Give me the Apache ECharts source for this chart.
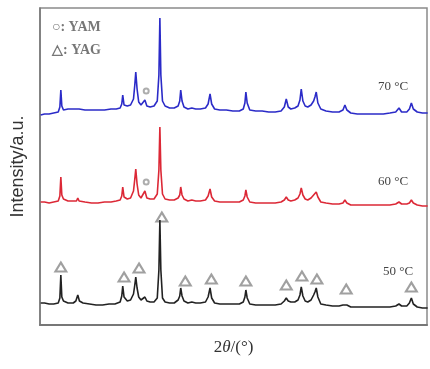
<!DOCTYPE html>
<html>
<head>
<meta charset="utf-8">
<script src="https://cdn.jsdelivr.net/npm/echarts@6/dist/echarts.min.js"></script>
<style>html,body{margin:0;padding:0;background:#fff;}#c{width:430px;height:369px;}</style>
</head>
<body>
<div id="c"></div>
<script>
// XRD patterns: [2theta, intensity (a.u., offset stacked)]
const pattern70 = [[15.0,210],[15.6,211],[16.3,211],[17.0,212],[17.7,213],[17.95,218],[18.1,235],[18.25,219],[18.5,215],[19.2,216],[20.0,216],[20.5,216],[20.7,218],[20.9,216],[21.8,215],[22.8,215],[23.8,215],[24.8,215],[25.8,216],[26.6,216],[27.2,217],[27.45,221],[27.6,230],[27.8,220],[28.3,219],[28.8,220],[29.25,226],[29.45,240],[29.6,253],[29.8,236],[30.05,223],[30.4,220],[30.7,221],[31.0,225],[31.3,219],[31.8,218],[32.4,219],[32.9,224],[33.15,250],[33.3,307],[33.45,250],[33.7,224],[34.1,219],[34.8,217],[35.5,217],[36.1,219],[36.35,224],[36.5,235],[36.7,224],[37.0,218],[37.6,216],[38.2,217],[38.8,216],[39.5,216],[40.3,217],[40.7,221],[41.0,231],[41.25,221],[41.7,216],[42.5,215],[43.5,215],[44.5,214],[45.5,214],[46.1,216],[46.35,222],[46.5,233],[46.7,222],[47.1,215],[48,214],[49,214],[50,213],[51,213],[51.9,214],[52.4,218],[52.7,226],[53.0,218],[53.4,216],[54.0,217],[54.5,219],[54.8,225],[55.0,236],[55.25,224],[55.6,219],[56.0,218],[56.5,220],[56.9,224],[57.1,228],[57.3,233],[57.55,222],[58.0,216],[58.8,214],[59.8,213],[60.8,213],[61.4,215],[61.7,220],[62.0,215],[62.6,212],[63.6,211],[64.6,211],[65.6,211],[66.6,211],[67.6,211],[68.6,212],[69.5,213],[70.0,217],[70.4,213],[71.2,213],[71.6,216],[71.9,222],[72.2,216],[72.8,213],[73.6,212],[74.4,212]];
const pattern60 = [[15.0,123],[15.6,123],[16.3,122],[17.0,123],[17.7,124],[17.95,129],[18.1,148],[18.25,130],[18.5,126],[19.2,124],[20.0,124],[20.5,124],[20.7,127],[20.9,124],[21.8,123],[22.8,122],[23.8,122],[24.8,123],[25.8,123],[26.6,124],[27.2,125],[27.45,129],[27.6,138],[27.8,128],[28.3,126],[28.8,127],[29.25,134],[29.45,146],[29.6,156],[29.8,141],[30.05,130],[30.4,127],[30.7,128],[31.0,134],[31.3,127],[31.8,126],[32.4,126],[32.9,131],[33.15,155],[33.3,198],[33.45,155],[33.7,131],[34.1,126],[34.8,125],[35.5,125],[36.1,127],[36.35,130],[36.5,138],[36.7,130],[37.0,126],[37.6,124],[38.2,125],[38.8,124],[39.5,124],[40.3,125],[40.7,129],[41.0,136],[41.25,128],[41.7,124],[42.5,123],[43.5,123],[44.5,123],[45.5,123],[46.1,125],[46.35,129],[46.5,135],[46.7,128],[47.1,123],[48,122],[49,122],[50,122],[51,122],[51.9,123],[52.4,125],[52.7,128],[53.0,125],[53.4,124],[54.0,125],[54.5,127],[54.8,131],[55.0,137],[55.25,130],[55.6,126],[56.0,125],[56.5,127],[56.9,130],[57.1,131],[57.3,133],[57.55,128],[58.0,123],[58.8,122],[59.8,121],[60.8,121],[61.4,122],[61.7,125],[62.0,122],[62.6,120],[63.6,120],[64.6,120],[65.6,120],[66.6,120],[67.6,120],[68.6,120],[69.5,121],[70.0,123],[70.4,121],[71.2,121],[71.6,122],[71.9,125],[72.2,122],[72.8,120],[73.6,119],[74.4,119]];
const pattern50 = [[15.0,22],[15.6,22],[16.3,21],[17.0,21],[17.7,22],[17.95,27],[18.1,50],[18.25,28],[18.5,24],[19.2,22],[20.0,22],[20.4,24],[20.7,30],[20.95,24],[21.5,22],[22.5,21],[23.5,20],[24.5,20],[25.5,21],[26.4,21],[27.2,23],[27.45,29],[27.6,39],[27.8,28],[28.3,24],[28.8,25],[29.25,31],[29.45,40],[29.6,48],[29.8,37],[30.05,28],[30.4,25],[30.7,25],[31.0,28],[31.3,24],[31.8,23],[32.4,23],[32.9,27],[33.15,55],[33.3,105],[33.45,55],[33.7,27],[34.1,23],[34.8,22],[35.5,22],[36.1,25],[36.35,29],[36.5,37],[36.7,29],[37.0,24],[37.6,22],[38.2,23],[38.8,22],[39.5,22],[40.3,23],[40.7,28],[41.0,37],[41.25,27],[41.7,22],[42.5,21],[43.5,21],[44.5,21],[45.5,21],[46.1,23],[46.35,28],[46.5,35],[46.7,27],[47.1,21],[48,20],[49,20],[50,20],[51,20],[51.9,21],[52.4,24],[52.7,27],[53.0,24],[53.4,23],[54.0,23],[54.5,25],[54.8,30],[55.0,38],[55.25,29],[55.6,24],[56.0,23],[56.5,25],[56.9,30],[57.1,33],[57.3,37],[57.55,28],[58.0,21],[58.8,20],[59.8,19],[60.8,19],[61.4,20],[61.7,22],[62.0,20],[62.6,18],[63.6,18],[64.6,18],[65.6,18],[66.6,18],[67.6,18],[68.6,18],[69.5,19],[70.0,21],[70.4,19],[71.2,19],[71.6,22],[71.9,27],[72.2,21],[72.8,18],[73.6,17],[74.4,17]];
// Phase markers
const yagMarks = [[18.1,58],[27.8,48],[30.1,57],[33.6,108],[37.2,44],[41.2,46],[46.5,44],[52.7,40],[55.1,49],[57.4,46],[61.9,36],[71.9,38]];
const yamMarks = [[31.2,234],[31.2,143]];
const seriesNames = ['70 °C','60 °C','50 °C'];
const yName = 'Intensity/a.u.';

const chart = echarts.init(document.getElementById('c'), null, {renderer:'canvas'});
const serif = 'Liberation Serif';
chart.setOption({
  animation:false,
  backgroundColor:'#fff',
  grid:{left:40, top:8, right:3, bottom:44, show:true, borderColor:'#8a8a8a', borderWidth:1.5},
  xAxis:{type:'value', min:14.9, max:74.3, name:'2{i|θ}/(°)', nameLocation:'middle', nameGap:14,
    nameTextStyle:{fontFamily:serif, fontSize:17, color:'#333', rich:{i:{fontFamily:serif, fontStyle:'italic', fontSize:17, color:'#333'}}},
    axisLine:{show:true, lineStyle:{color:'#777', width:2}}, axisTick:{show:false}, axisLabel:{show:false}, splitLine:{show:false}},
  yAxis:{type:'value', min:0, max:317, name:yName, nameLocation:'middle', nameGap:13,
    nameTextStyle:{fontFamily:'Liberation Sans', fontSize:18, color:'#333'},
    axisLine:{show:true, lineStyle:{color:'#777', width:1.5}}, axisTick:{show:false}, axisLabel:{show:false}, splitLine:{show:false}},
  series:[
    {name:seriesNames[0], type:'line', data:pattern70, symbol:'none', lineStyle:{color:'#2b2bc8', width:1.6}},
    {name:seriesNames[1], type:'line', data:pattern60, symbol:'none', lineStyle:{color:'#dc2836', width:1.6}},
    {name:seriesNames[2], type:'line', data:pattern50, symbol:'none', lineStyle:{color:'#222', width:1.6}},
    {name:'YAG', type:'scatter', data:yagMarks, symbol:'emptyTriangle', symbolSize:[11,9], itemStyle:{color:'#888', borderColor:'#888', borderWidth:1}},
    {name:'YAM', type:'scatter', data:yamMarks, symbol:'emptyCircle', symbolSize:5, itemStyle:{color:'#999', borderColor:'#999', borderWidth:1}}
  ],
  graphic:[
    {type:'text', left:52, top:20, style:{text:'○: YAM', font:'bold 14px "Liberation Serif"', fill:'#777'}},
    {type:'text', left:52, top:43, style:{text:'△: YAG', font:'bold 14px "Liberation Serif"', fill:'#777'}},
    {type:'text', left:378, top:80, style:{text:seriesNames[0], font:'13px "Liberation Serif"', fill:'#444'}},
    {type:'text', left:378, top:175, style:{text:seriesNames[1], font:'13px "Liberation Serif"', fill:'#444'}},
    {type:'text', left:383, top:265, style:{text:seriesNames[2], font:'13px "Liberation Serif"', fill:'#444'}}
  ]
});
</script>
</body>
</html>
